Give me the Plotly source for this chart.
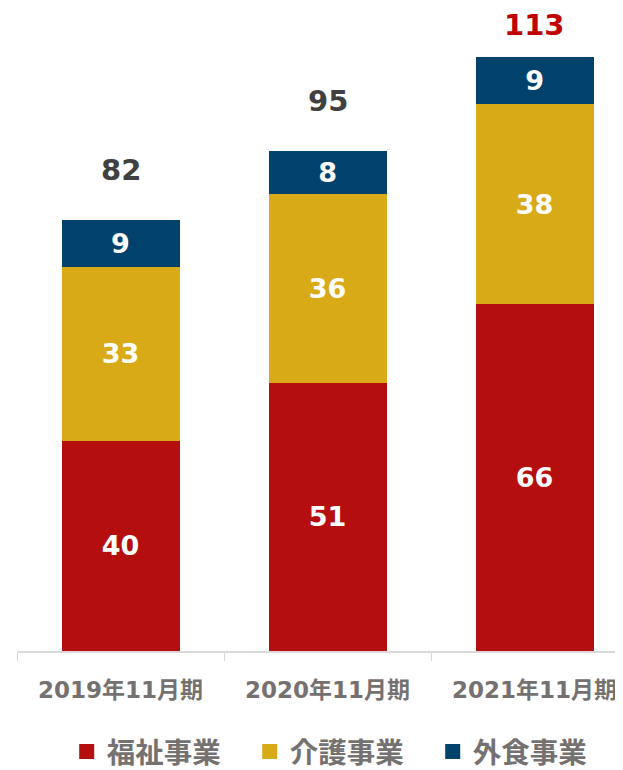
import plotly.graph_objects as go

categories = ["2019年11月期", "2020年11月期", "2021年11月期"]
fukushi = [40, 51, 66]
kaigo = [33, 36, 38]
gaishoku = [9, 8, 9]
totals = [82, 95, 113]
series_names = ["福祉事業", "介護事業", "外食事業"]
colors = ["#B50E0E", "#D8AA17", "#00426C"]
total_colors = ["#404040", "#404040", "#C00000"]
total_shift = [50, 50, 32]

NUM_FONT = "DejaVu Sans"
JP_FONT = "Noto Sans CJK JP"
MIX_FONT = "DejaVu Sans, Noto Sans CJK JP"

fig = go.Figure()
for name, vals, col in zip(series_names, [fukushi, kaigo, gaishoku], colors):
    fig.add_trace(go.Bar(
        x=categories, y=vals, name=name, marker=dict(color=col, line=dict(width=0)),
        text=[str(v) for v in vals], textposition="inside", insidetextanchor="middle",
        textfont=dict(family=NUM_FONT, size=27, color="white", weight="bold"),
        showlegend=False, hoverinfo="skip"))
for name, col in zip(series_names, colors):
    fig.add_trace(go.Scatter(
        x=[None], y=[None], mode="markers", name=name,
        marker=dict(symbol="square", size=15, color=col), showlegend=True))

for c, t, col, s in zip(categories, totals, total_colors, total_shift):
    fig.add_annotation(x=c, y=t, text=str(t), showarrow=False, yshift=s,
                       yanchor="middle",
                       font=dict(family=NUM_FONT, size=29, color=col, weight="bold"))

fig.update_layout(
    width=615, height=770, barmode="stack", bargap=0.43,
    margin=dict(l=9, r=0, t=12, b=127),
    plot_bgcolor="white", paper_bgcolor="white",
    xaxis=dict(range=[-0.5, 2.427], showline=True, linecolor="#D9D9D9", linewidth=2,
               ticks="outside", tickson="boundaries", ticklen=8, tickcolor="#D9D9D9",
               tickfont=dict(family=MIX_FONT, size=23, color="#767171", weight="bold"),
               ticklabelstandoff=17, showgrid=False),
    yaxis=dict(range=[0, 120], visible=False, showgrid=False),
    legend=dict(orientation="h", x=0.535, xanchor="center", y=-0.16, yanchor="middle",
                traceorder="normal",
                font=dict(family=JP_FONT, size=28.5, color="#767171", weight="bold"),
                entrywidth=138, entrywidthmode="pixels"),
)
fig.write_html("out.html")
